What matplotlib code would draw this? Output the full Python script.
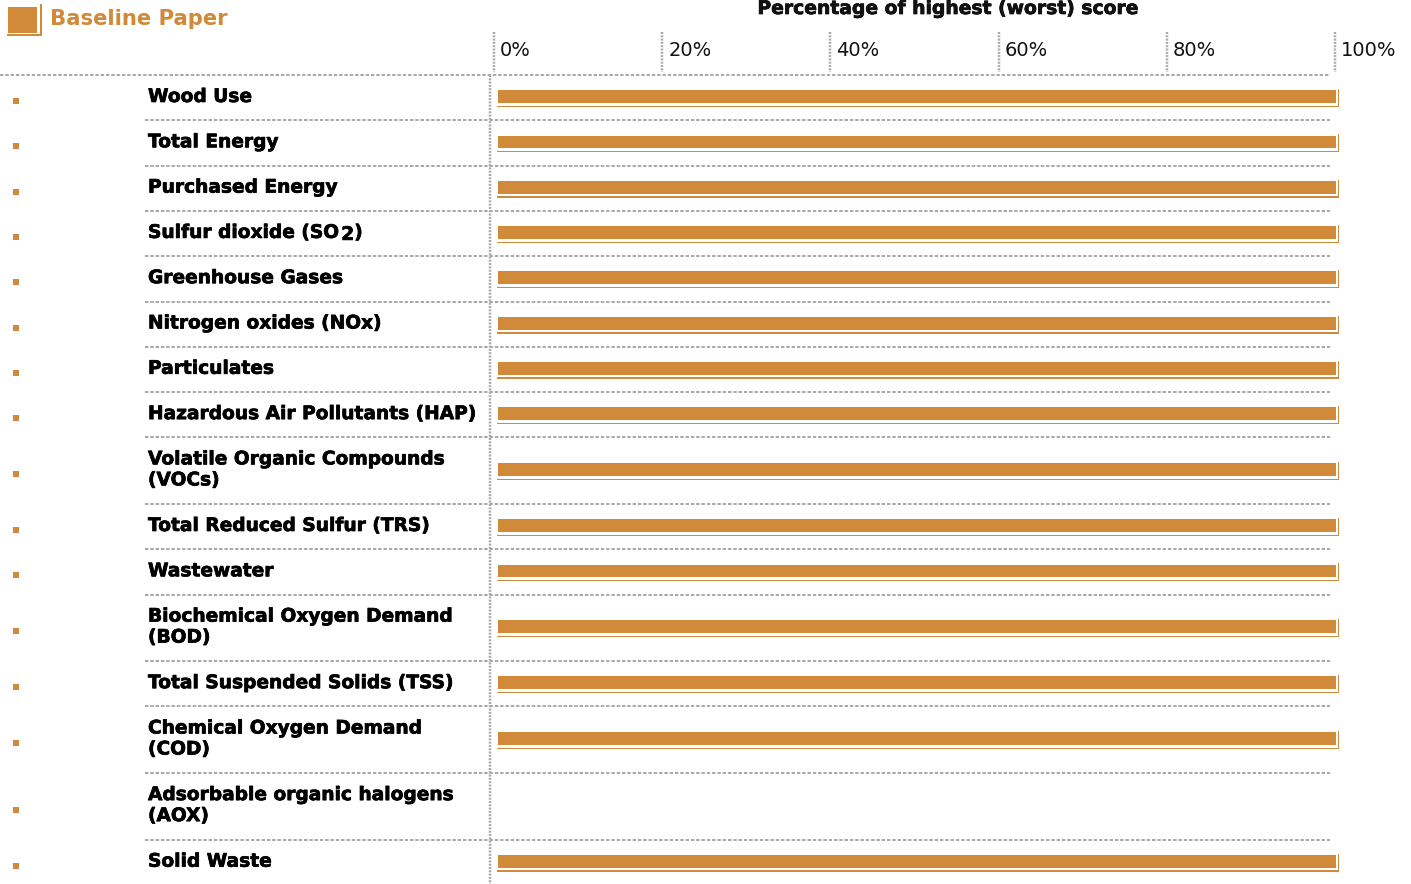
import matplotlib
matplotlib.use("Agg")
import matplotlib.pyplot as plt
import matplotlib.patheffects as pe
import numpy as np

plt.rcParams['lines.scale_dashes'] = False
plt.rcParams['font.family'] = ['DejaVu Sans']

# ---- data ----
categories = [
    ["Wood Use"],
    ["Total Energy"],
    ["Purchased Energy"],
    ["Sulfur dioxide (SO", "2", ")"],
    ["Greenhouse Gases"],
    ["Nitrogen oxides (NOx)"],
    ["Particulates"],
    ["Hazardous Air Pollutants (HAP)"],
    ["Volatile Organic Compounds", "(VOCs)"],
    ["Total Reduced Sulfur (TRS)"],
    ["Wastewater"],
    ["Biochemical Oxygen Demand", "(BOD)"],
    ["Total Suspended Solids (TSS)"],
    ["Chemical Oxygen Demand", "(COD)"],
    ["Adsorbable organic halogens", "(AOX)"],
    ["Solid Waste"],
]
n_lines = [1, 1, 1, 1, 1, 1, 1, 1, 2, 1, 1, 2, 1, 2, 2, 1]
values = [100, 100, 100, 100, 100, 100, 100, 100, 100, 100, 100, 100, 100, 100, np.nan, 100]
tick_values = [0, 20, 40, 60, 80, 100]
tick_labels = ["0%", "20%", "40%", "60%", "80%", "100%"]
legend_label = "Baseline Paper"
axis_title = "Percentage of highest (worst) score"

ORANGE = "#D08A3A"
GREY = "#AAAAAA"

W, H = 1411, 884
fig = plt.figure(figsize=(W / 100, H / 100), dpi=100)
ax = fig.add_axes([0, 0, 1, 1])
ax.set_xlim(0, W)
ax.set_ylim(H, 0)
ax.axis("off")

PX = 72 / 100  # points per pixel
dot = dict(color=GREY, lw=2 * PX, dashes=(3.4 * PX, 1.9 * PX))
bold_fx = [pe.withStroke(linewidth=0.5, foreground="black")]

# row layout
top = 75.0
single_h, double_h = 45.3, 66.6
tops = []
y = top
for n in n_lines:
    tops.append(y)
    y += single_h if n == 1 else double_h
bottoms = tops[1:] + [y]
centers = [(t + b) / 2 for t, b in zip(tops, bottoms)]

# separators
ax.plot([0, 1330], [top, top], **dot)
for b in bottoms[:-1]:
    ax.plot([145, 1330], [b, b], **dot)
ax.plot([490, 490], [top, H], color=GREY, lw=2.5 * PX, dashes=(2 * PX, 1.3 * PX))

# bar axes: 0..100% maps to px 498..1336 (axes extended a bit to show the shadow)
x0, x1 = 498, 1336
pxu = 100 / (x1 - x0)
ax_l, ax_r = 480, 1360
bax = fig.add_axes([ax_l / W, 0, (ax_r - ax_l) / W, 1])
bax.set_xlim((ax_l - x0) * pxu, (ax_r - x0) * pxu)
bax.set_ylim(H, 0)
bax.axis("off")
bar_c = [c - 1 for c in centers]
vals = np.array(values, dtype=float)
# shadow frame
bax.barh([c + 1.5 for c in bar_c], vals + 4.0 * pxu, left=-1 * pxu, height=18,
         color=ORANGE, linewidth=0)
bax.barh([c + 0.5 for c in bar_c], vals + 3.0 * pxu, left=-1.5 * pxu, height=17,
         color="white", linewidth=0)
bax.barh(bar_c, vals, height=12.8, color=ORANGE, linewidth=0)

# ticks (pixel positions of tick lines from a 0..100 scale)
t0, t1 = 494, 1335
for v, lab in zip(tick_values, tick_labels):
    xp = t0 + (t1 - t0) * v / 100
    ax.plot([xp, xp], [32, 72], color=GREY, lw=2.5 * PX, dashes=(2 * PX, 1.3 * PX))
    ax.text(xp + 6, 50, lab, fontsize=14, va="center", ha="left", color="#111111")

ax.text(948, 14, axis_title, fontsize=13.5, fontweight="bold", ha="center",
        va="baseline", color="#111111", path_effects=bold_fx)

# legend
ax.add_patch(plt.Rectangle((8, 7), 29, 26, color=ORANGE, lw=0))
ax.plot([40.5, 40.5, 8], [5, 35, 35], color=ORANGE, lw=2 * PX, solid_joinstyle="miter")
ax.text(50, 25, legend_label, fontsize=15.2, fontweight="bold", color=ORANGE,
        va="baseline", ha="left")

# labels and markers
FS = 13.4
for i, cat in enumerate(categories):
    t = tops[i]
    c = centers[i]
    ax.add_patch(plt.Rectangle((12.5, c + 0.5), 6, 6, color=ORANGE, lw=0))
    if len(cat) == 3:
        tx = ax.text(148, t + 27, cat[0], fontsize=FS, fontweight="bold", va="baseline",
                     ha="left", path_effects=bold_fx)
        fig.canvas.draw()
        xx = tx.get_window_extent().x1
        tx2 = ax.text(xx + 1, t + 29, cat[1], fontsize=FS, fontweight="bold", va="baseline",
                      ha="left", path_effects=bold_fx)
        fig.canvas.draw()
        ax.text(tx2.get_window_extent().x1, t + 27, cat[2], fontsize=FS, fontweight="bold",
                va="baseline", ha="left", path_effects=bold_fx)
    else:
        for j, line in enumerate(cat):
            ax.text(148, t + 27 + 21 * j, line, fontsize=FS, fontweight="bold",
                    va="baseline", ha="left", color="black", path_effects=bold_fx)

fig.savefig("out.png", dpi=100)
